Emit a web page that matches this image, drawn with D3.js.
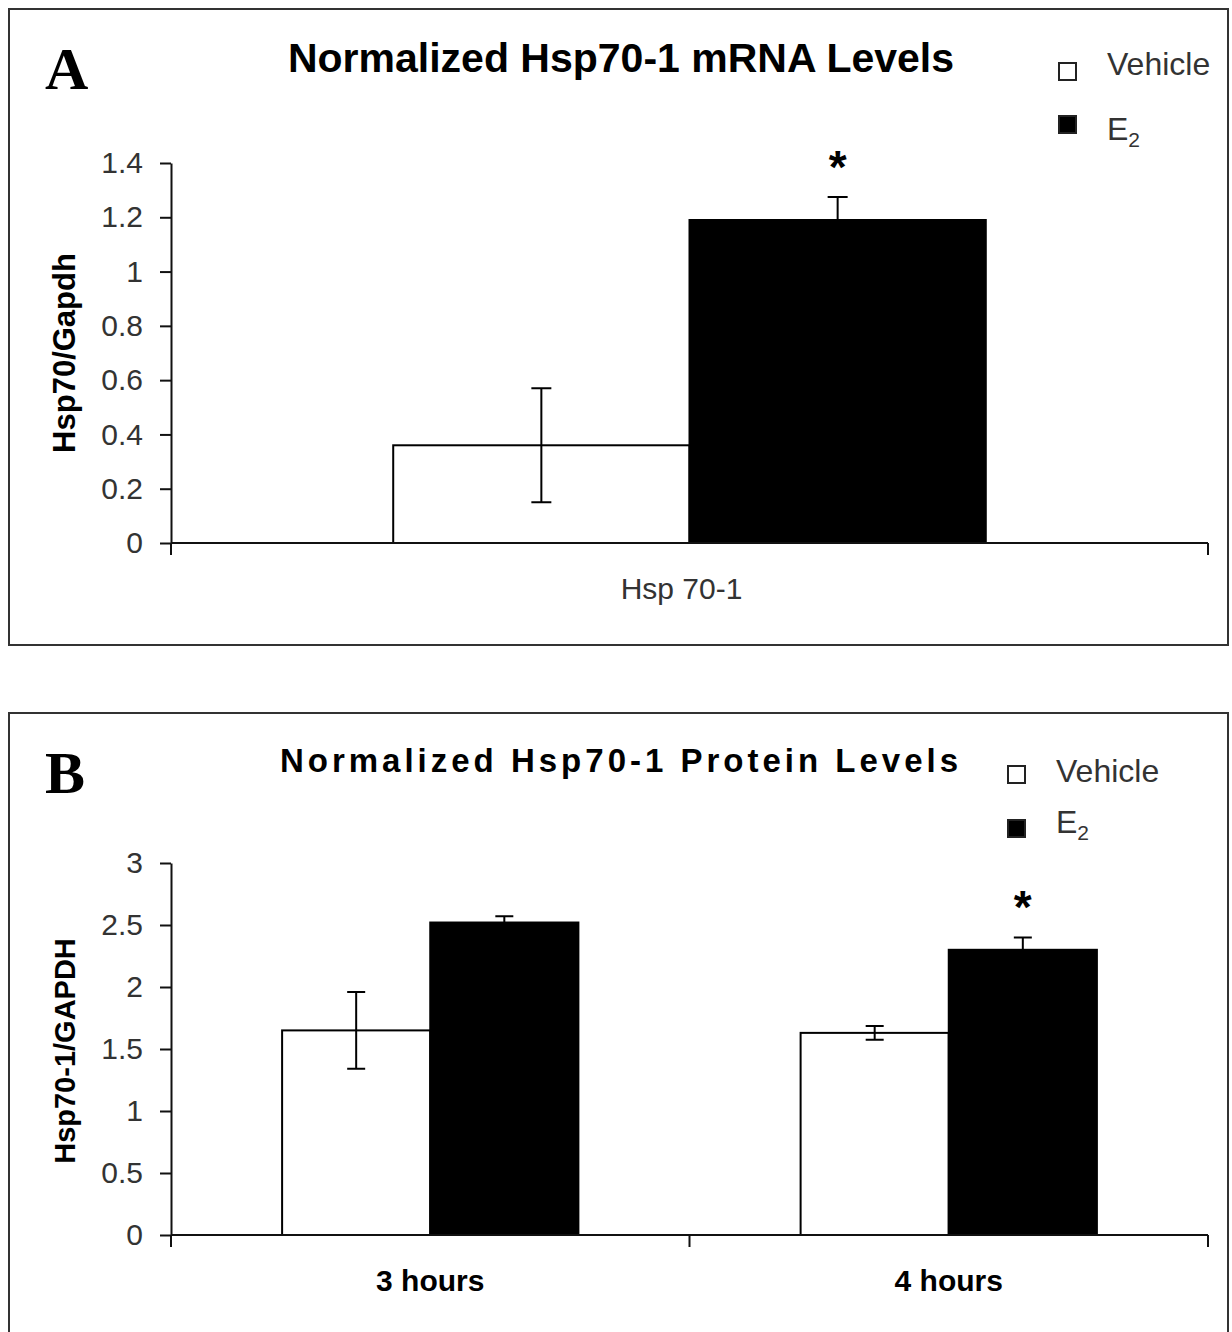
<!DOCTYPE html>
<html>
<head>
<meta charset="utf-8">
<script src="https://cdn.jsdelivr.net/npm/d3@7"></script>
<style>
  body { margin: 0; background: #fff; }
  svg { display: block; font-family: "Liberation Sans", Arial, sans-serif; }
  .frame { fill: none; stroke: #333; stroke-width: 2; }
  .axis path, .axis line { stroke: #111; stroke-width: 2; }
  .axis text { font-size: 30px; fill: #333; font-family: "Liberation Sans", Arial, sans-serif; }
  .bar { stroke: #000; stroke-width: 2; }
  .err { stroke: #000; stroke-width: 2; fill: none; }
</style>
</head>
<body>
<div id="graphic"></div>
<script>
// Series
var seriesNames = ["Vehicle", "E2"];

// Panel A: mRNA
var mrnaCategories = ["Hsp 70-1"];
var mrnaVehicle    = [0.36];
var mrnaVehicleErr = [0.21];
var mrnaE2         = [1.19];
var mrnaE2Err      = [0.085];
var mrnaStar       = [true];
var mrnaTicks      = [0, 0.2, 0.4, 0.6, 0.8, 1, 1.2, 1.4];

// Panel B: protein
var proteinCategories = ["3 hours", "4 hours"];
var proteinVehicle    = [1.65, 1.63];
var proteinVehicleErr = [0.31, 0.055];
var proteinE2         = [2.52, 2.30];
var proteinE2Err      = [0.05, 0.10];
var proteinStar       = [false, true];
var proteinTicks      = [0, 0.5, 1, 1.5, 2, 2.5, 3];

(function() {
  var W = 1232, H = 1332;

  var svg = d3.select("#graphic").append("svg")
    .attr("width", W)
    .attr("height", H);

  function rows(cats, veh, vehErr, e2, e2Err, star) {
    return cats.map(function(c, i) {
      return {
        cat: c,
        star: star[i],
        bars: [
          { key: "Vehicle", value: veh[i], err: vehErr[i] },
          { key: "E2",      value: e2[i],  err: e2Err[i] }
        ]
      };
    });
  }

  function panel(opt) {
    var g = svg.append("g");

    // Frame
    g.append("rect").attr("class", "frame")
      .attr("x", 9).attr("y", opt.top)
      .attr("width", 1219).attr("height", opt.frameH);

    // Panel letter
    g.append("text")
      .attr("x", 45).attr("y", opt.top + 80)
      .style("font-family", "'Liberation Serif', 'Times New Roman', serif")
      .style("font-weight", "bold")
      .style("font-size", "60px")
      .text(opt.letter);

    // Title
    g.append("text")
      .attr("x", 621).attr("y", opt.top + opt.titleY)
      .attr("text-anchor", "middle")
      .style("font-weight", "bold")
      .style("font-size", opt.titleSize + "px")
      .style("letter-spacing", opt.titleSpacing + "px")
      .text(opt.title);

    var y = d3.scaleLinear().domain(opt.domain).range([opt.y0, opt.y1]);
    var x = d3.scaleBand().domain(opt.data.map(function(d) { return d.cat; }))
      .range([171, 1208]).padding(0);
    var xs = d3.scaleBand().domain(seriesNames)
      .range([0, x.bandwidth()]).paddingInner(0).paddingOuter(0.75);

    // Y axis
    var yAxis = d3.axisLeft(y).tickValues(opt.ticks).tickSize(11)
      .tickSizeOuter(0).tickPadding(17).tickFormat(d3.format("~g"));
    g.append("g").attr("class", "axis")
      .attr("transform", "translate(171,0)")
      .call(yAxis);

    // Bars
    var groups = g.append("g").selectAll("g.bar-group")
        .data(opt.data)
      .enter().append("g")
        .attr("class", "bar-group")
        .attr("transform", function(d) { return "translate(" + x(d.cat) + ",0)"; });

    groups.selectAll("rect.bar")
        .data(function(d) { return d.bars; })
      .enter().append("rect")
        .attr("class", "bar")
        .attr("x", function(d) { return xs(d.key); })
        .attr("width", xs.bandwidth())
        .attr("y", function(d) { return y(d.value); })
        .attr("height", function(d) { return y(0) - y(d.value); })
        .attr("fill", function(d) { return d.key == "E2" ? "#000" : "#fff"; });

    // Error bars
    var cap = opt.cap;
    groups.selectAll("path.err")
        .data(function(d) { return d.bars; })
      .enter().append("path")
        .attr("class", "err")
        .attr("d", function(d) {
          var cx = xs(d.key) + xs.bandwidth() / 2;
          var hi = y(d.value + d.err), lo = y(d.value - d.err);
          return "M" + (cx - cap / 2) + "," + hi + "H" + (cx + cap / 2) +
                 "M" + cx + "," + hi + "V" + lo +
                 "M" + (cx - cap / 2) + "," + lo + "H" + (cx + cap / 2);
        });

    // Significance stars
    groups.filter(function(d) { return d.star; }).append("text")
      .attr("x", xs("E2") + xs.bandwidth() / 2)
      .attr("y", function(d) { return y(d.bars[1].value + d.bars[1].err) - 14; })
      .attr("text-anchor", "middle")
      .style("font-size", "46px")
      .style("font-weight", "bold")
      .text("*");

    // X axis baseline with category boundary ticks
    var x0 = y(0);
    g.append("line").attr("class", "axisline")
      .attr("x1", 171).attr("x2", 1208).attr("y1", x0).attr("y2", x0)
      .attr("stroke", "#111").attr("stroke-width", 2);
    var bounds = x.domain().map(function(c) { return x(c); }).concat([x.range()[1]]);
    g.selectAll("line.xtick").data(bounds)
      .enter().append("line")
        .attr("class", "xtick")
        .attr("x1", function(d) { return d; }).attr("x2", function(d) { return d; })
        .attr("y1", x0).attr("y2", x0 + 12)
        .attr("stroke", "#111").attr("stroke-width", 2);

    // Category labels
    g.selectAll("text.cat").data(x.domain())
      .enter().append("text")
        .attr("class", "cat")
        .attr("x", function(d) { return x(d) + x.bandwidth() / 2 + opt.catDx; })
        .attr("y", x0 + opt.catDy)
        .attr("text-anchor", "middle")
        .style("font-size", "30px")
        .style("font-weight", opt.catBold ? "bold" : "normal")
        .style("fill", opt.catBold ? "#000" : "#333")
        .text(function(d) { return d; });

    // Y axis title
    g.append("text")
      .attr("transform", "translate(" + 75 + "," + opt.yTitleY + ") rotate(-90)")
      .attr("text-anchor", "middle")
      .style("font-weight", "bold")
      .style("font-size", opt.yTitleSize + "px")
      .text(opt.yTitle);

    // Legend
    var leg = g.append("g").selectAll("g.legend")
        .data(seriesNames)
      .enter().append("g")
        .attr("class", "legend");

    leg.append("rect")
      .attr("x", opt.legendX)
      .attr("y", function(d, i) { return opt.legendBox[i] - 17; })
      .attr("width", 17).attr("height", 17)
      .attr("fill", function(d) { return d == "E2" ? "#000" : "#fff"; })
      .attr("stroke", "#222").attr("stroke-width", 2);

    var lt = leg.append("text")
      .attr("x", opt.legendX + 48)
      .attr("y", function(d, i) { return opt.legendText[i]; })
      .style("font-size", "32px")
      .style("fill", "#333");
    lt.append("tspan").text(function(d) { return d == "E2" ? "E" : d; });
    lt.filter(function(d) { return d == "E2"; }).append("tspan")
      .attr("dy", 7)
      .style("font-size", "21px")
      .text("2");
  }

  panel({
    letter: "A", top: 9, frameH: 636,
    title: "Normalized Hsp70-1 mRNA Levels", titleY: 63, titleSize: 41, titleSpacing: 0,
    data: rows(mrnaCategories, mrnaVehicle, mrnaVehicleErr, mrnaE2, mrnaE2Err, mrnaStar),
    domain: [0, 1.4], y0: 543, y1: 163, ticks: mrnaTicks,
    cap: 20, catDx: -8, catDy: 56, catBold: false,
    yTitle: "Hsp70/Gapdh", yTitleY: 353, yTitleSize: 31,
    legendX: 1059, legendBox: [80, 133], legendText: [75, 140]
  });

  panel({
    letter: "B", top: 713, frameH: 640,
    title: "Normalized Hsp70-1 Protein Levels", titleY: 59, titleSize: 33, titleSpacing: 4,
    data: rows(proteinCategories, proteinVehicle, proteinVehicleErr, proteinE2, proteinE2Err, proteinStar),
    domain: [0, 3], y0: 1235, y1: 863, ticks: proteinTicks,
    cap: 18, catDx: 0, catDy: 56, catBold: true,
    yTitle: "Hsp70-1/GAPDH", yTitleY: 1051, yTitleSize: 29,
    legendX: 1008, legendBox: [783, 837], legendText: [782, 833]
  });
})();
</script>
</body>
</html>
